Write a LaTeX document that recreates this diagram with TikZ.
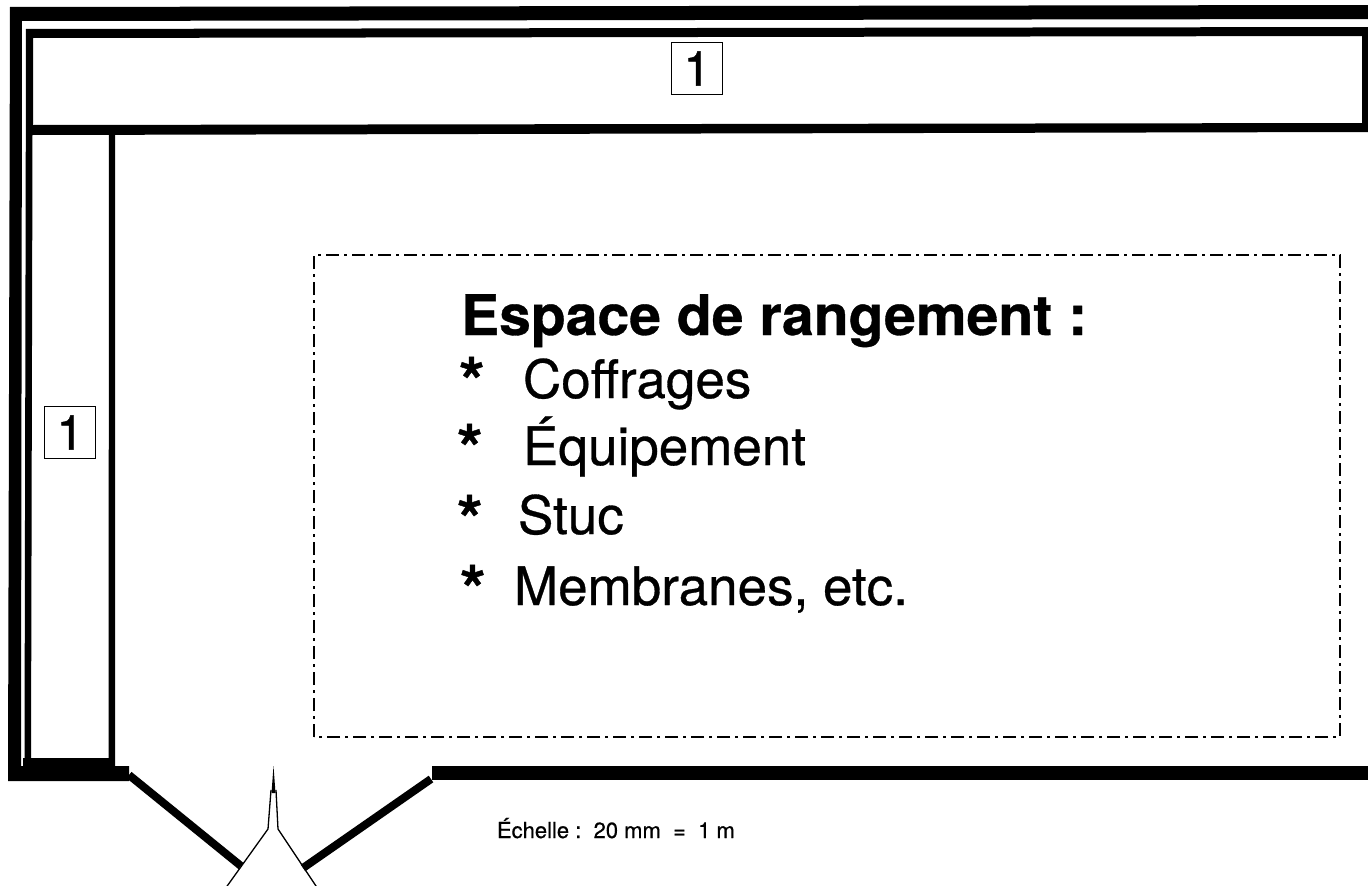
\documentclass[tikz,border=0pt]{standalone}
\usepackage{fontspec}
\setmainfont{TeX Gyre Heros}
\newfontfamily\semi[FakeBold=0.6]{TeX Gyre Heros}
\newfontfamily\heavy[FakeBold=1.0]{TeX Gyre Heros}
\newfontfamily\boldhead[FakeBold=0.6]{TeX Gyre Heros Bold}
\tikzset{
  wall/.style={fill=black,draw=none},
  zone/.style={line width=1.8pt,dash pattern=on 13pt off 5pt on 3pt off 5pt},
  numbox/.style={draw,line width=1.5pt,minimum width=51pt,minimum height=52pt,inner sep=0pt,font=\heavy\fontsize{48}{48}\selectfont},
  txt/.style={anchor=base west,inner sep=0pt,outer sep=0pt},
  big/.style={txt,font=\semi\fontsize{53}{53}\selectfont},
  star/.style={txt,font=\boldhead\fontsize{66}{66}\selectfont},
  door/.style={line width=8pt},
  wing/.style={line width=1.3pt,line join=miter}
}
\begin{document}
\begin{tikzpicture}[x=1pt,y=-1pt]
\useasboundingbox (0,0) rectangle (1368,886);
% outer wall
\fill[wall] (1368,5) -- (10,7) -- (8,781) -- (129,781) -- (129,766) -- (30,766) -- (30,758) -- (23,758) -- (23,766) -- (21,766) -- (22,21) -- (1368,19) -- cycle;
% inner wall around the top bay
\fill[wall] (1368,27) -- (26,29) -- (24.5,766) -- (31,766) -- (32.5,135) -- (1368,132) -- (1368,123) -- (33,125) -- (33,38) -- (1362,36) -- (1362,123) -- (1368,123) -- cycle;
\fill[wall] (109,130) -- (108.5,766) -- (115,766) -- (115,130) -- cycle;
\fill[wall] (24,758) rectangle (115,770);
% right wall piece
\fill[wall] (432,766) rectangle (1368,780);
% doors
\coordinate (dl1) at (129,775);
\coordinate (dl2) at (241,866);
\coordinate (dr1) at (431,779);
\coordinate (dr2) at (303,868);
\draw[door] (dl1) -- (dl2);
\draw[door] (dr1) -- (dr2);
% door wings
\coordinate (tip) at (273.5,766);
\fill (tip) -- (271.5,793) -- (275.5,793) -- cycle;
\draw[wing] (271,790) -- (268,829) -- (225,889);
\draw[wing] (276,790) -- (278,829) -- (318,889);
% storage zone
\draw[zone] (314,737) rectangle (1340,255);
% labels
\node[numbox] (n1) at (697,68.5) {1};
\node[numbox] (n2) at (70,432.5) {1};
\node[txt,font=\boldhead\fontsize{56}{56}\selectfont,xscale=1.02,transform shape] (title) at (461,335) {Espace de rangement :};
\node[star] (s1) at (459,405) {*};
\node[big] (t1) at (523,398) {Coffrages};
\node[star] (s2) at (457,472) {*};
\node[big] (t2) at (523,465) {Équipement};
\node[star] (s3) at (457,543) {*};
\node[big] (t3) at (518,534) {Stuc};
\node[star] (s4) at (460,613) {*};
\node[big] (t4) at (514,605) {Membranes, etc.};
\node[txt,font=\semi\fontsize{22}{22}\selectfont] (sc) at (497,838) {Échelle :\ \ 20 mm \ = \ 1 m};
\end{tikzpicture}
\end{document}
